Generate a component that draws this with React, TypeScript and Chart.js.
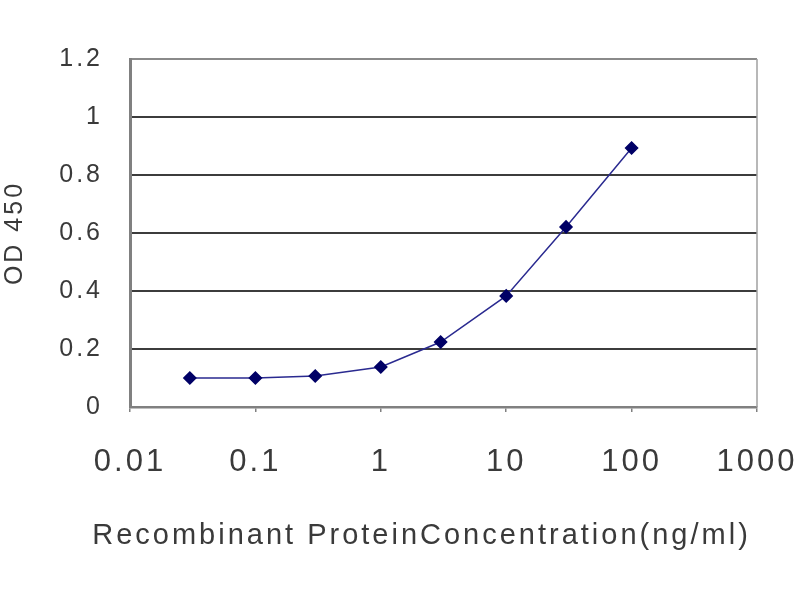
import React, { useEffect, useRef } from "react";
import { Chart, registerables } from "chart.js";

Chart.register(...registerables);

const concentrations = [0.03, 0.1, 0.3, 1, 3, 10, 30, 100];
const odValues = [0.1, 0.1, 0.107, 0.138, 0.224, 0.383, 0.621, 0.893];
const xTicks = [0.01, 0.1, 1, 10, 100, 1000];
const yTicks = [0, 0.2, 0.4, 0.6, 0.8, 1, 1.2];
const xTitle = "Recombinant ProteinConcentration(ng/ml)";
const yTitle = "OD 450";

const FONT = "Arial, 'Liberation Sans', sans-serif";
const TEXT = "#3a3a3a";

const spacing = {
  id: "spacing",
  beforeUpdate(chart: any) {
    chart.ctx.letterSpacing = "3px";
  },
  beforeLayout(chart: any) {
    chart.ctx.letterSpacing = "3px";
  },
  beforeDraw(chart: any) {
    chart.ctx.letterSpacing = "3px";
  },
};

const frame = {
  id: "frame",
  afterDraw(chart: any) {
    const { ctx, chartArea } = chart;
    ctx.save();
    ctx.strokeStyle = "#a0a0a0";
    ctx.lineWidth = 1.5;
    ctx.beginPath();
    ctx.moveTo(chartArea.right, chartArea.top);
    ctx.lineTo(chartArea.right, chartArea.bottom);
    ctx.stroke();
    // x-axis title, centred slightly left of the plot centre as in the original
    const xs = chart.scales.x;
    ctx.font = `29px ${FONT}`;
    ctx.letterSpacing = "3px";
    ctx.fillStyle = TEXT;
    ctx.textAlign = "center";
    ctx.textBaseline = "middle";
    ctx.fillText(xTitle, (xs.left + xs.right) / 2 - 22, xs.bottom - 64);
    ctx.restore();
  },
};

export default function App() {
  const ref = useRef<HTMLCanvasElement>(null);
  useEffect(() => {
    const chart = new Chart(ref.current!, {
      type: "line",
      data: {
        datasets: [
          {
            data: concentrations.map((x, i) => ({ x, y: odValues[i] })),
            borderColor: "#2a2a90",
            borderWidth: 1.5,
            pointStyle: "rectRot",
            pointRadius: 6,
            pointBackgroundColor: "#000066",
            pointBorderColor: "#000066",
            tension: 0,
          },
        ],
      },
      plugins: [spacing, frame],
      options: {
        animation: false,
        responsive: false,
        layout: { padding: { top: 59, right: 43, left: 0, bottom: 0 } },
        plugins: { legend: { display: false }, tooltip: { enabled: false } },
        scales: {
          x: {
            type: "logarithmic",
            min: 0.01,
            max: 1000,
            afterBuildTicks: (s: any) => {
              s.ticks = xTicks.map((v) => ({ value: v }));
            },
            afterFit: (s: any) => {
              s.height = 193;
              s.paddingLeft = 0;
              s.paddingRight = 0;
            },
            grid: {
              drawOnChartArea: false,
              color: "#808080",
              tickLength: 5,
              lineWidth: 1.5,
            },
            border: { color: "#808080", width: 2.5 },
            ticks: {
              autoSkip: false,
              maxRotation: 0,
              padding: 32,
              color: TEXT,
              font: { family: FONT, size: 31 },
              callback: (v: any) => String(v),
            },
            title: { display: false, text: xTitle },
          },
          y: {
            min: 0,
            max: 1.2,
            afterBuildTicks: (s: any) => {
              s.ticks = yTicks.map((v) => ({ value: v }));
            },
            afterFit: (s: any) => {
              s.width = 130;
            },
            grid: {
              color: (c: any) => (c.tick && c.tick.value === 1.2 ? "#8a8a8a" : "#3c3c3c"),
              lineWidth: 2,
              tickLength: 0,
            },
            border: { color: "#808080", width: 3 },
            ticks: {
              padding: 27,
              color: TEXT,
              font: { family: FONT, size: 25 },
              callback: (v: any) => String(Number(Number(v).toFixed(1))),
            },
            title: {
              display: true,
              text: yTitle,
              color: TEXT,
              font: { family: FONT, size: 25 },
              padding: { top: 0, bottom: 0 },
            },
          },
        },
      },
    });
    return () => chart.destroy();
  }, []);
  return (
    <div style={{ position: "fixed", left: 0, top: 0, width: 800, height: 600, background: "#fff" }}>
      <canvas ref={ref} width={800} height={600} style={{ width: 800, height: 600 }} />
    </div>
  );
}
